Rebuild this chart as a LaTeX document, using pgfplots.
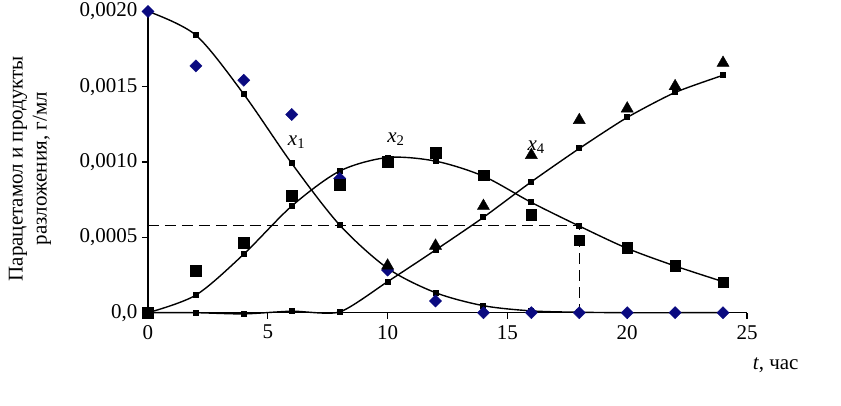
\documentclass[border=0pt]{standalone}
\usepackage{pgfplots}
\pgfplotsset{compat=1.18}
\usepackage{fontspec}
\setmainfont{Liberation Serif}
\definecolor{navyd}{RGB}{10,10,128}
\begin{document}
\begin{tikzpicture}[font=\fontsize{21}{25}\selectfont]
\path[use as bounding box] (-148pt,-93.3pt) rectangle (693pt,312.7pt);
\begin{axis}[
  at={(0,0)}, anchor=origin,
  scale only axis, width=599pt, height=301.3pt,
  xmin=0, xmax=25, ymin=0, ymax=0.002,
  axis lines=left, axis line style={-, line width=1.1pt},
  clip=false,
  tick align=outside, major tick length=6pt,
  every tick/.style={black, line width=1.1pt},
  xtick={0,5,10,15,20,25},
  xticklabels={0,5,10,15,20,25},
  ytick={0,0.0005,0.001,0.0015,0.002},
  yticklabels={{0,0},{0,0005},{0,0010},{0,0015},{0,0020}},
  scaled y ticks=false,
  /pgf/number format/assume math mode=true,
  every tick label/.append style={font=\fontsize{21}{25}\selectfont},
  xticklabel style={yshift=-3pt},
  yticklabel style={xshift=-1pt},
  ylabel={Парацетамол и продукты\\разложения, г/мл},
  ylabel style={at={(axis description cs:-0.197,0.478)}, anchor=center, align=center, font=\fontsize{21}{24}\selectfont},
  xlabel={\textit{t}, час},
  xlabel style={at={(axis description cs:1.048,-0.174)}, anchor=center, font=\fontsize{21}{25}\selectfont},
]
% dashed guide lines
\addplot[black, line width=1.1pt, dash pattern=on 11pt off 6pt] coordinates {(0,0.00058) (18,0.00058) (18,0)};
% x1 model
\addplot[black, line width=1.4pt, smooth, tension=0.5, mark=square*, mark size=2.3pt] coordinates {
(0,0.0020) (2,0.001842) (4,0.00145) (6,0.000991) (8,0.000582) (10,0.000295) (12,0.000133) (14,0.0000465) (16,0.000012) (18,0.000003) (20,0) (22,0) (24,0)};
% x2 model
\addplot[black, line width=1.4pt, smooth, tension=0.5, mark=square*, mark size=2.3pt] coordinates {
(0,0) (2,0.000117) (4,0.000389) (6,0.000708) (8,0.00094) (10,0.00103) (12,0.001006) (14,0.000906) (16,0.000732) (18,0.000575) (20,0.000427) (22,0.00031) (24,0.000206)};
% x4 model
\addplot[black, line width=1.4pt, smooth, tension=0.4, mark=square*, mark size=2.3pt] coordinates {
(0,0) (2,0) (4,-0.000008) (6,0.00001) (8,0.000005) (10,0.000206) (12,0.000416) (14,0.000633) (16,0.000869) (18,0.00109) (20,0.001296) (22,0.001462) (24,0.001576)};
% x1 experimental
\addplot[only marks, mark=square*, mark options={rotate=45, fill=navyd, draw=navyd}, mark size=4.3pt] coordinates {
(0,0.0020) (2,0.001638) (4,0.001543) (6,0.001316) (8,0.000891) (10,0.000283) (12,0.0000776) (14,0) (16,0) (18,0) (20,0) (22,0) (24,0)};
% x2 experimental
\addplot[only marks, mark=square*, mark options={fill=black, draw=black}, mark size=5.3pt] coordinates {
(0,0) (2,0.000279) (4,0.000464) (6,0.000776) (8,0.000851) (10,0.001001) (12,0.001061) (14,0.000913) (16,0.000652) (18,0.000482) (20,0.000431) (22,0.000312) (24,0.000202)};
% x4 experimental
\addplot[only marks, mark=triangle*, mark options={fill=black, draw=black}, mark size=7pt] coordinates {
(10,0.000312) (12,0.000444) (14,0.000708) (16,0.001046) (18,0.001278) (20,0.001355) (22,0.001503) (24,0.001658)};
\node[fill=white, inner sep=1pt] at (axis cs:6.2,0.00113) {\textit{x}\textsubscript{1}};
\node[inner sep=1pt] at (axis cs:10.35,0.00115) {\textit{x}\textsubscript{2}};
\node[fill=white, inner sep=0pt] at (axis cs:16.2,0.00110) {\textit{x}\textsubscript{4}};
\end{axis}
\end{tikzpicture}
\end{document}
